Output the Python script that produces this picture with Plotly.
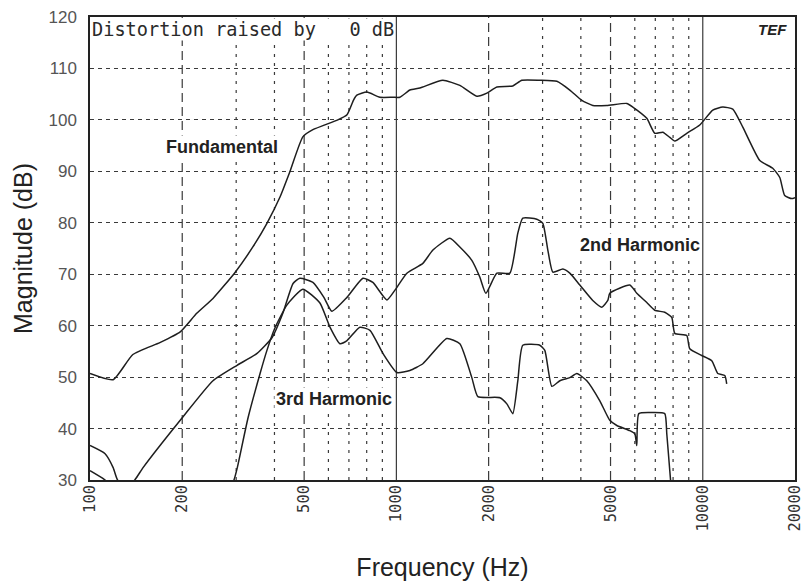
import math
import plotly.graph_objects as go

# ---------------- data ----------------
fund_freq = [100, 119, 138, 169, 197, 223, 252, 297, 340, 378, 417, 449, 495, 534,
             644, 690, 724, 743, 801, 883, 974, 1027, 1107, 1193, 1418, 1611, 1830,
             1974, 2128, 2399, 2567, 2938, 3340, 3681, 4030, 4375, 4863, 5650, 5910,
             6566, 6972, 7404, 7805, 8104, 8866, 9777, 10780, 11620, 12530, 13510,
             15350, 16920, 17840, 18510, 19520, 20000]
fund_db = [50.7, 49.5, 54.4, 56.7, 58.8, 62.4, 65.3, 70.3, 75.3, 79.9, 85.0, 89.9, 96.7, 98.1,
           100.0, 101.0, 103.8, 104.8, 105.4, 104.4, 104.4, 104.4, 105.8, 106.2, 107.7, 106.7, 104.6,
           105.2, 106.4, 106.6, 107.7, 107.7, 107.5, 105.8, 103.8, 102.8, 102.8, 103.2, 102.5,
           100.3, 97.4, 97.6, 96.6, 95.9, 97.4, 99.0, 101.9, 102.5, 102.1, 98.6,
           92.1, 90.6, 88.8, 85.3, 84.7, 84.9]

h2_freq = [100, 112, 119, 123, 131, 140, 149, 200, 252, 302, 351, 393, 426, 460, 484,
           534, 580, 616, 690, 778, 838, 931, 989, 1082, 1220, 1316, 1495, 1611, 1763,
           1873, 1959, 2128, 2346, 2491, 2586, 2873, 3006, 3121, 3241, 3494, 3681, 3970,
           4375, 4683, 4898, 4972, 5780, 6090, 6566, 6972, 7516, 7922, 8104, 8866, 9070,
           9924, 10700, 11190, 11800, 11970]
h2_db = [36.7, 35.1, 32.4, 30.0, 28.5, 30.0, 32.4, 42.1, 49.3, 52.3, 54.6, 57.7, 62.4, 68.2, 69.2,
         68.4, 65.5, 62.8, 65.5, 69.2, 68.4, 65.0, 66.9, 70.2, 72.1, 74.7, 77.0, 75.3, 72.7,
         69.4, 66.3, 70.2, 70.2, 78.0, 80.9, 80.7, 79.9, 74.7, 70.4, 71.0, 70.2, 67.9,
         64.9, 63.6, 64.9, 66.3, 67.9, 66.3, 64.5, 63.0, 62.6, 61.6, 58.5, 58.1, 55.5,
         54.2, 53.2, 50.7, 50.3, 48.7]

h3_freq = [100, 112, 125, 280, 295, 302, 328, 359, 378, 401, 439, 495, 563, 607, 654,
           690, 760, 820, 904, 1004, 1107, 1220, 1461, 1611, 1763, 1845, 2177, 2294,
           2399, 2491, 2586, 2938, 3051, 3217, 3416, 3681, 3881, 4183, 4613, 4972, 5242,
           5780, 5999, 6090, 6183, 6870, 7516, 7630, 7805, 7900]
h3_db = [31.8, 30.0, 27.5, 27.5, 30.0, 32.2, 42.1, 50.7, 55.2, 59.5, 64.0, 67.1, 64.4, 59.7, 56.5,
         57.1, 59.7, 59.1, 54.6, 50.9, 51.3, 52.6, 57.5, 56.5, 49.9, 46.2, 46.0, 44.8,
         42.9, 49.3, 56.2, 56.2, 55.2, 48.2, 49.3, 49.9, 50.7, 49.3, 45.4, 41.6, 40.6,
         39.6, 39.0, 36.7, 42.9, 43.1, 42.9, 39.0, 31.8, 28.0]

x_ticks = [100, 200, 500, 1000, 2000, 5000, 10000, 20000]
y_ticks = [30, 40, 50, 60, 70, 80, 90, 100, 110, 120]
grid_solid = [1000, 10000]
grid_long = [200, 500, 2000, 5000]
grid_dot = [300, 400, 600, 700, 800, 900, 3000, 4000, 6000, 7000, 8000, 9000]
y_min, y_max = 30, 120

labels = [("Fundamental", 270, 94.7), ("2nd Harmonic", 6230, 75.6), ("3rd Harmonic", 625, 45.7)]

# ---------------- figure ----------------
fig = go.Figure()

GRID = "#3a3a3a"


def vlines(freqs, dash, width=1.0):
    xs, ys = [], []
    for f in freqs:
        xs += [f, f, None]
        ys += [y_min, y_max, None]
    fig.add_trace(go.Scatter(x=xs, y=ys, mode="lines", hoverinfo="skip", showlegend=False,
                             line=dict(color=GRID, width=width, dash=dash)))


vlines(grid_solid, "solid", 1.2)
vlines(grid_long, "9px,5px", 1.2)
vlines(grid_dot, "3px,6px", 1.2)

CURVE = "#1e1e1e"
for fx, dy in [(fund_freq, fund_db), (h2_freq, h2_db), (h3_freq, h3_db)]:
    fig.add_trace(go.Scatter(x=fx, y=dy, mode="lines", showlegend=False,
                             line=dict(color=CURVE, width=1.5, shape="spline", smoothing=0.5)))

for text, fx, dy in labels:
    fig.add_annotation(x=math.log10(fx), y=dy, xref="x", yref="y", text=f"<b>{text}</b>",
                       showarrow=False, bgcolor="white", borderpad=1,
                       font=dict(family="Liberation Sans, Arial", size=18, color="#222"))

fig.add_annotation(x=0.002, y=0.998, xref="paper", yref="paper", xanchor="left", yanchor="top",
                   text="Distortion raised by   0 dB", showarrow=False, bgcolor="white",
                   borderpad=0,
                   font=dict(family="DejaVu Sans Mono", size=18.6, color="#2a2a2a"))
fig.add_annotation(x=0.992, y=0.995, xref="paper", yref="paper", xanchor="right", yanchor="top",
                   text="<b><i>TEF</i></b>", showarrow=False,
                   font=dict(family="Liberation Sans, Arial", size=15, color="#222"))

fig.update_xaxes(type="log", range=[2, math.log10(20000)], tickvals=x_ticks,
                 ticktext=[str(v) for v in x_ticks], tickangle=-90, showgrid=False,
                 zeroline=False, showline=True, mirror=True, linecolor="#222", linewidth=1.5,
                 ticks="", ticklabelstandoff=-3, automargin=False, ticklabeloverflow="allow",
                 tickfont=dict(family="DejaVu Sans Mono", size=15.5, color="#333"),
                 title=dict(text="Frequency (Hz)", standoff=28,
                            font=dict(family="Liberation Sans, Arial", size=25, color="#222")))
fig.update_yaxes(range=[y_min, y_max], tickvals=y_ticks, showgrid=True, gridcolor=GRID,
                 griddash="4px,4px", gridwidth=1.2, zeroline=False, showline=True, mirror=True,
                 linecolor="#222", linewidth=1.5, ticks="", ticklabelstandoff=8, automargin=False,
                 tickfont=dict(family="Liberation Sans, Arial", size=17, color="#555"),
                 title=dict(text="Magnitude (dB)", standoff=9,
                            font=dict(family="Liberation Sans, Arial", size=25, color="#222")))

fig.update_layout(width=804, height=585, margin=dict(l=90, r=9, t=17, b=105),
                  paper_bgcolor="white", plot_bgcolor="white")

fig.write_html("out.html", config={"displayModeBar": False},
               post_script="document.body.style.margin='0';document.body.style.overflow='hidden';")
